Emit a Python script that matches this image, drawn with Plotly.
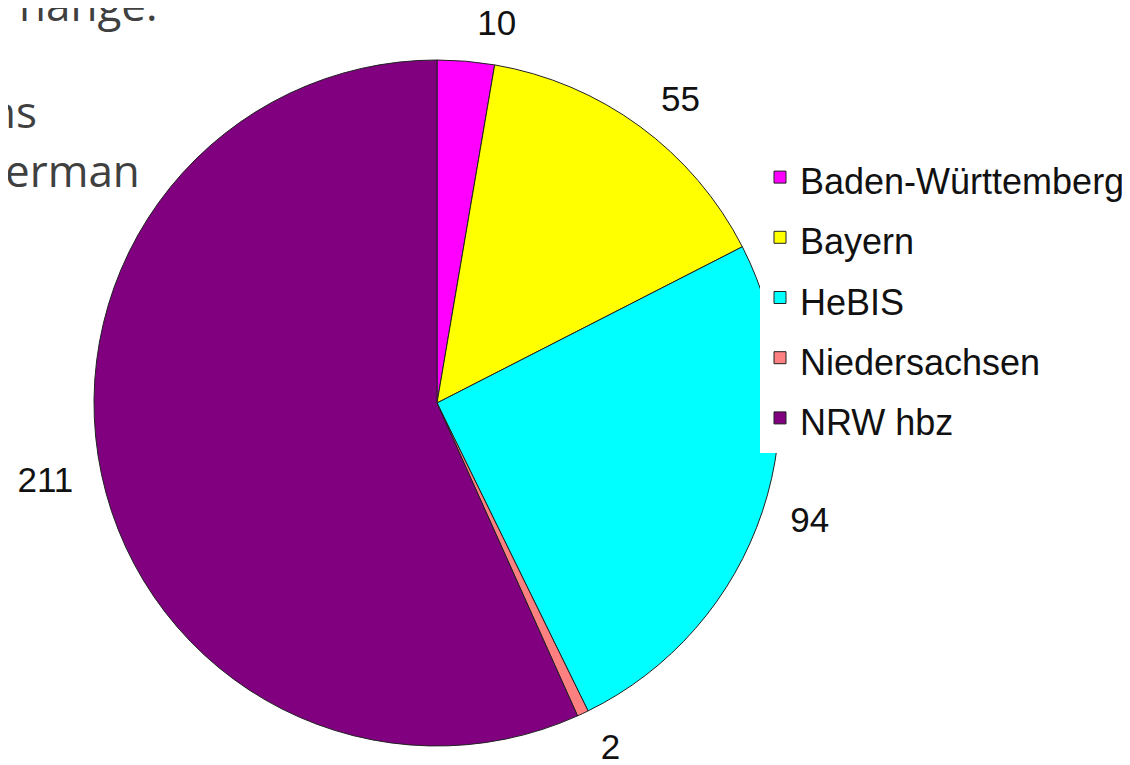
import plotly.graph_objects as go

categories = ["Baden-Württemberg", "Bayern", "HeBIS", "Niedersachsen", "NRW hbz"]
values = [10, 55, 94, 2, 211]
colors = ["#FF00FF", "#FFFF00", "#00FFFF", "#FF8080", "#800080"]

slide_text = ["hange:", "ns", "erman"]

# page body has an 8px margin, so the figure is drawn 8px in from the window corner
W, H = 1122, 757
CX, CY, R = 429, 395, 343      # pie centre / radius in figure pixels
R_LBL = 362                    # radius used to place the outside value labels

legend_labels = ['<span style="font-size:36px">%s</span>' % c for c in categories]


def dom(r):
    return dict(x=[(CX - r) / W, (CX + r) / W],
                y=[max(0, (H - (CY + r)) / H), min(1, (H - (CY - r)) / H)])


fig = go.Figure()
# the coloured pie
fig.add_trace(go.Pie(
    labels=legend_labels,
    values=values,
    sort=False,
    direction="clockwise",
    rotation=0,
    marker=dict(colors=colors, line=dict(color="#222222", width=1)),
    textinfo="none",
    domain=dom(R),
    showlegend=True,
    hoverinfo="label+value",
))
# a transparent copy, slightly larger, that only carries the value labels
fig.add_trace(go.Pie(
    labels=legend_labels,
    values=values,
    sort=False,
    direction="clockwise",
    rotation=0,
    marker=dict(colors=["rgba(0,0,0,0)"] * len(values), line=dict(width=0)),
    textinfo="value",
    textposition="outside",
    outsidetextfont=dict(family="Liberation Sans, Arial", size=35, color="#111111"),
    domain=dom(R_LBL),
    showlegend=False,
    hoverinfo="skip",
))

# partial slide text at top-left (cut off by the frame, as in the original)
ann_specs = [(152, -4), (31, 103), (134, 162)]
annotations = []
for txt, (xr, yc) in zip(slide_text, ann_specs):
    annotations.append(dict(
        text=txt, xref="paper", yref="paper",
        x=xr / W, y=(H - yc) / H, xanchor="right", yanchor="middle",
        showarrow=False,
        font=dict(family="Open Sans", size=44, color="#404040"),
    ))

fig.update_layout(
    width=W, height=H,
    margin=dict(l=0, r=0, t=0, b=0, autoexpand=False),
    paper_bgcolor="white",
    plot_bgcolor="white",
    showlegend=True,
    legend=dict(
        x=752 / W, xanchor="left",
        y=(H - 134) / H, yanchor="top",
        bgcolor="white",
        borderwidth=0,
        font=dict(family="Liberation Sans, Arial", size=44, color="#111111"),
        traceorder="normal",
    ),
    annotations=annotations,
)

fig.write_html("out.html")
